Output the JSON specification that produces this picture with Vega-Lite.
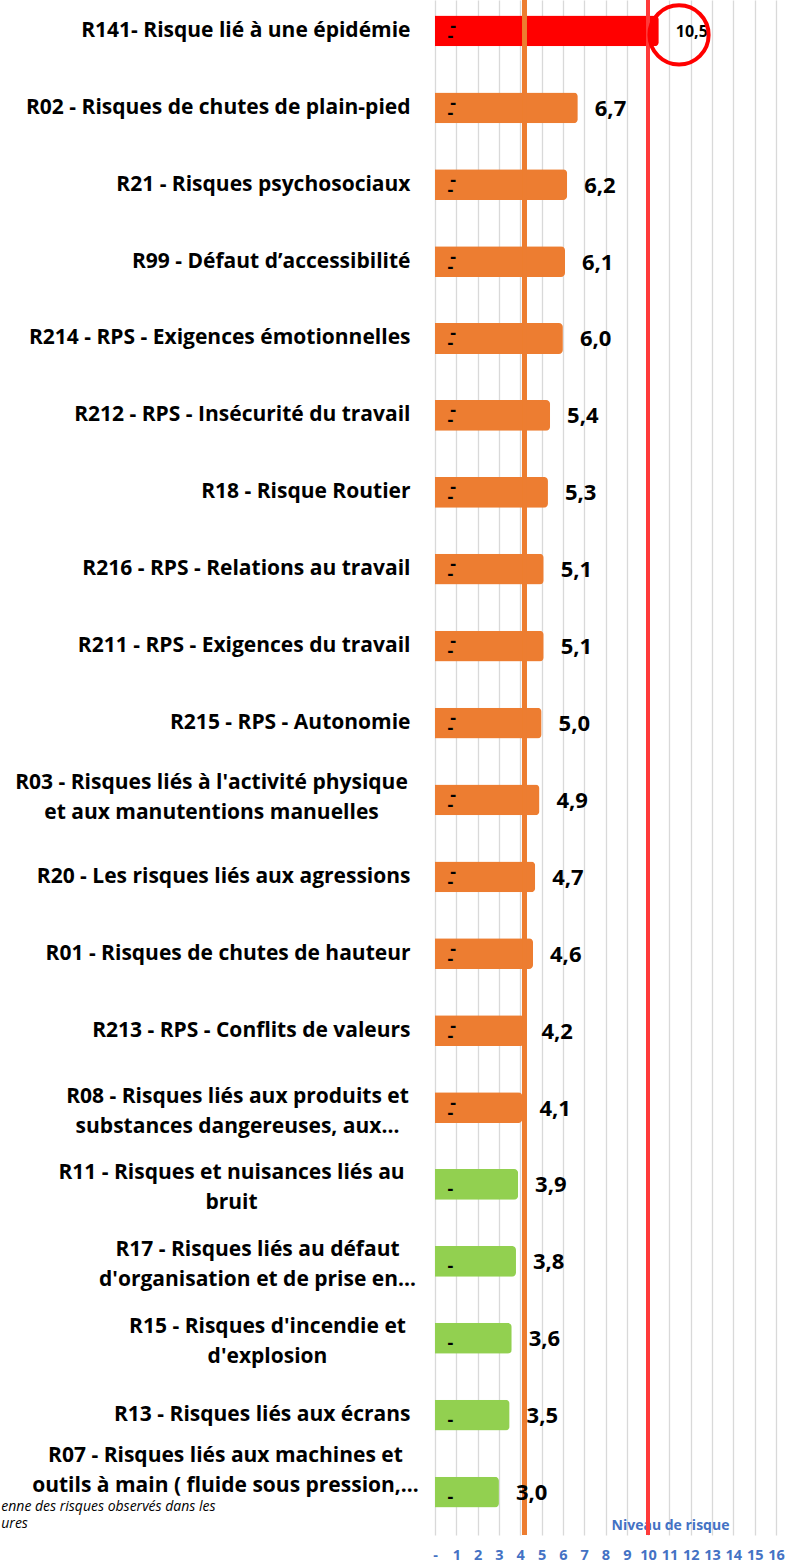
{
  "$schema": "https://vega.github.io/schema/vega-lite/v6.json",
  "autosize": {"type": "none"},
  "padding": {"left": 435, "top": 0, "right": 18, "bottom": 28},
  "width": 341,
  "height": 1535,
  "background": "white",
  "config": {
    "view": {"stroke": null},
    "locale": {"number": {"decimal": ",", "thousands": " ", "grouping": [3], "currency": ["", " €"]}},
    "font": "Open Sans",
    "axisX": {
      "titleColor": "#4472C4",
      "titleFont": "Open Sans",
      "titleFontSize": 14,
      "titleFontWeight": "bold",
      "titleX": 235,
      "titleY": -10,
      "titleAlign": "center",
      "titleBaseline": "middle",
      "tickCount": 16,
      "labelExpr": "datum.value == 0 ? '-' : datum.label",
      "labelOverlap": false,
      "labelColor": "#4472C4",
      "labelFont": "Open Sans",
      "labelFontSize": 14.5,
      "labelFontWeight": "bold",
      "labelPadding": 13,
      "labelFlush": false,
      "ticks": false,
      "domain": false,
      "grid": true,
      "gridColor": "#D9D9D9",
      "gridWidth": 1.3
    }
  },
  "data": {
    "values": [
      {"risque": "R141- Risque lié à une épidémie", "value": 10.5, "niveau": "élevé"},
      {"risque": "R02 - Risques de chutes de plain-pied", "value": 6.7, "niveau": "moyen"},
      {"risque": "R21 - Risques psychosociaux", "value": 6.2, "niveau": "moyen"},
      {"risque": "R99 - Défaut d’accessibilité", "value": 6.1, "niveau": "moyen"},
      {"risque": "R214 - RPS - Exigences émotionnelles", "value": 6.0, "niveau": "moyen"},
      {"risque": "R212 - RPS - Insécurité du travail", "value": 5.4, "niveau": "moyen"},
      {"risque": "R18 - Risque Routier", "value": 5.3, "niveau": "moyen"},
      {"risque": "R216 - RPS - Relations au travail", "value": 5.1, "niveau": "moyen"},
      {"risque": "R211 - RPS - Exigences du travail", "value": 5.1, "niveau": "moyen"},
      {"risque": "R215 - RPS - Autonomie", "value": 5.0, "niveau": "moyen"},
      {"risque": "R03 - Risques liés à l'activité physique|et aux manutentions manuelles", "value": 4.9, "niveau": "moyen"},
      {"risque": "R20 - Les risques liés aux agressions", "value": 4.7, "niveau": "moyen"},
      {"risque": "R01 - Risques de chutes de hauteur", "value": 4.6, "niveau": "moyen"},
      {"risque": "R213 - RPS - Conflits de valeurs", "value": 4.2, "niveau": "moyen"},
      {"risque": "R08 - Risques liés aux produits et|substances dangereuses, aux…", "value": 4.1, "niveau": "moyen"},
      {"risque": "R11 - Risques et nuisances liés au|bruit", "value": 3.9, "niveau": "faible"},
      {"risque": "R17 - Risques liés au défaut|d'organisation et de prise en…", "value": 3.8, "niveau": "faible"},
      {"risque": "R15 - Risques d'incendie et|d'explosion", "value": 3.6, "niveau": "faible"},
      {"risque": "R13 - Risques liés aux écrans", "value": 3.5, "niveau": "faible"},
      {"risque": "R07 - Risques liés aux machines et|outils à main ( fluide sous pression,…", "value": 3.0, "niveau": "faible"}
    ]
  },
  "encoding": {
    "y": {
      "field": "risque",
      "type": "nominal",
      "sort": null,
      "scale": {"paddingInner": 0.6, "paddingOuter": 0.28, "align": 0.36},
      "axis": {
        "title": null,
        "ticks": false,
        "domain": false,
        "grid": false,
        "labelExpr": "split(datum.label, '|')",
        "labelFont": "Open Sans",
        "labelFontSize": 21,
        "labelFontWeight": "bold",
        "labelColor": "#000000",
        "labelLimit": 0,
        "labelLineHeight": 30,
        "labelBaseline": "middle",
        "labelAlign": {
          "condition": {"test": "indexof(datum.value, '|') >= 0", "value": "center"},
          "value": "right"
        },
        "labelOffset": {
          "condition": [
            {"test": "indexof(datum.value, 'R03 ') == 0", "value": -17},
            {"test": "indexof(datum.value, 'R07 ') == 0", "value": -36},
            {"test": "indexof(datum.value, '|') >= 0", "value": -11}
          ],
          "value": 0
        },
        "labelPadding": {
          "condition": [
            {"test": "indexof(datum.value, 'R03 ') == 0", "value": 224},
            {"test": "indexof(datum.value, 'R08 ') == 0", "value": 198},
            {"test": "indexof(datum.value, 'R11 ') == 0", "value": 204},
            {"test": "indexof(datum.value, 'R17 ') == 0", "value": 178},
            {"test": "indexof(datum.value, 'R15 ') == 0", "value": 168},
            {"test": "indexof(datum.value, 'R07 ') == 0", "value": 210}
          ],
          "value": 25
        }
      }
    }
  },
  "layer": [
    {
      "mark": {"type": "bar", "cornerRadiusEnd": 4},
      "encoding": {
        "x": {
          "field": "value",
          "type": "quantitative",
          "scale": {"domain": [0, 16], "nice": false, "zero": true},
          "axis": {"title": "Niveau de risque"}
        },
        "color": {
          "field": "niveau",
          "type": "nominal",
          "scale": {"domain": ["élevé", "moyen", "faible"], "range": ["#FF0000", "#ED7D31", "#92D050"]},
          "legend": null
        }
      }
    },
    {
      "transform": [{"filter": "datum.niveau != 'faible'"}],
      "mark": {"type": "text", "text": "-", "fontSize": 18, "fontWeight": "bold", "color": "#000000", "yOffset": -4, "align": "center", "baseline": "middle"},
      "encoding": {"x": {"datum": 0.85}}
    },
    {
      "mark": {"type": "text", "text": "-", "fontSize": 18, "fontWeight": "bold", "color": "#000000", "yOffset": 6, "align": "center", "baseline": "middle"},
      "encoding": {"x": {"datum": 0.72}}
    },
    {
      "mark": {"type": "rule", "color": "#FF3B3B", "strokeWidth": 3.5},
      "encoding": {"x": {"datum": 10}, "y": null}
    },
    {
      "mark": {"type": "rule", "color": "#ED7D31", "strokeWidth": 3.5},
      "encoding": {"x": {"datum": 4.2}, "y": null}
    },
    {
      "mark": {"type": "text", "align": "left", "baseline": "middle", "dx": 17, "yOffset": 1, "fontWeight": "bold", "color": "#000000", "font": "Open Sans"},
      "encoding": {
        "x": {"field": "value", "type": "quantitative"},
        "text": {"field": "value", "type": "quantitative", "format": ".1f"},
        "size": {"condition": {"test": "datum.value >= 10", "value": 16}, "value": 22}
      }
    },
    {
      "transform": [{"filter": "datum.value >= 10"}],
      "mark": {"type": "point", "shape": "circle", "filled": false, "stroke": "#FF0000", "strokeWidth": 4, "size": 3500, "opacity": 1, "yOffset": 4},
      "encoding": {"x": {"datum": 11.45}}
    },
    {
      "transform": [{"filter": "indexof(datum.risque, 'R07 ') == 0"}],
      "mark": {"type": "text", "align": "left", "baseline": "top", "fontStyle": "italic", "fontSize": 14, "font": "Open Sans", "color": "#000000", "lineHeight": 17, "yOffset": 8},
      "encoding": {
        "x": {"datum": -20.35},
        "text": {"value": ["enne des risques observés dans les", "ures"]}
      }
    }
  ]
}
